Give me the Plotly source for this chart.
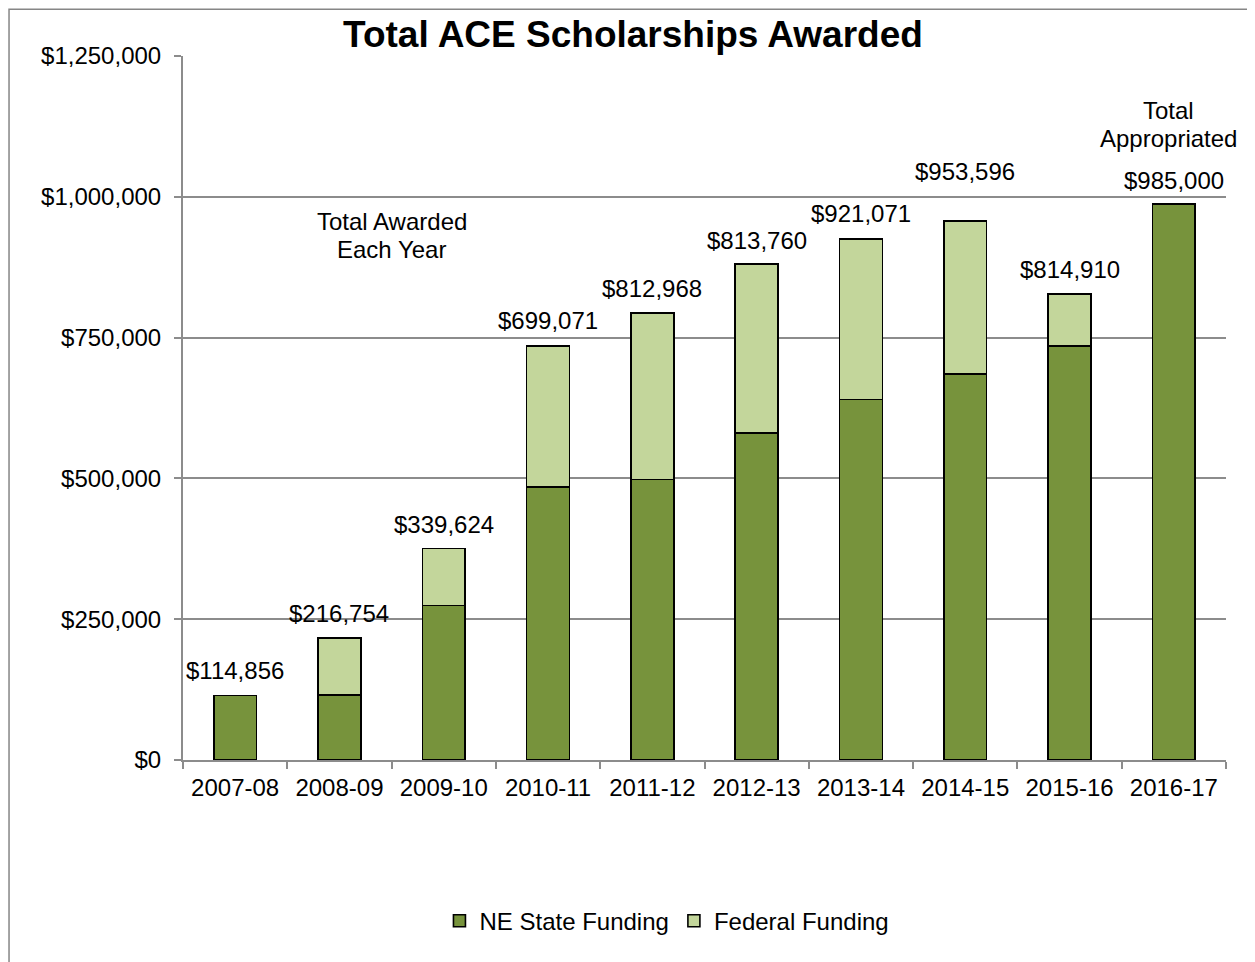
import plotly.graph_objects as go

years = ["2007-08", "2008-09", "2009-10", "2010-11", "2011-12", "2012-13",
         "2013-14", "2014-15", "2015-16", "2016-17"]
state_funding = [114600, 115800, 274500, 484700, 498400, 580700, 640000, 685500, 734700, 987000]
federal_funding = [0, 100600, 100700, 250600, 295000, 299700, 285400, 271900, 92400, 0]
total_labels = ["$114,856", "$216,754", "$339,624", "$699,071", "$812,968", "$813,760",
                "$921,071", "$953,596", "$814,910", "$985,000"]
label_shift = [25, 25, 24, 25, 25, 24, 25, 49, 25, 24]
y_ticks = [0, 250000, 500000, 750000, 1000000, 1250000]
y_tick_text = ["$0", "$250,000", "$500,000", "$750,000", "$1,000,000", "$1,250,000"]

FONT = "Liberation Sans, Arial, sans-serif"
FS = 24
STATE_C = "#77933C"
FED_C = "#C3D69B"
GRID_C = "#8C8C8C"

fig = go.Figure()
fig.add_trace(go.Bar(x=years, y=state_funding, name="NE State Funding",
                     marker=dict(color=STATE_C, line=dict(color="black", width=1.6))))
fig.add_trace(go.Bar(x=years, y=federal_funding, name="Federal Funding",
                     marker=dict(color=FED_C, line=dict(color="black", width=1.6))))

totals = [s + f for s, f in zip(state_funding, federal_funding)]
txt_font = dict(family=FONT, size=FS, color="black")
annotations = []
for yr, tot, lab, sh in zip(years, totals, total_labels, label_shift):
    annotations.append(dict(x=yr, y=tot, text=lab, showarrow=False, yshift=sh,
                            xanchor="center", yanchor="middle", font=txt_font))
for line, sh in [("Total Awarded", 14), ("Each Year", -14)]:
    annotations.append(dict(x=1.5, y=932000, text=line, showarrow=False, yshift=sh,
                            xanchor="center", yanchor="middle", font=txt_font))
for line, sh in [("Total", 94), ("Appropriated", 66)]:
    annotations.append(dict(x=years[-1], y=totals[-1], text=line, showarrow=False,
                            xanchor="center", yanchor="middle", yshift=sh, xshift=-5,
                            font=txt_font))

fig.update_layout(
    width=1255, height=962,
    barmode="stack", bargap=0.59,
    paper_bgcolor="white", plot_bgcolor="white",
    margin=dict(l=175, r=37, t=48, b=210),
    title=dict(text="<b>Total ACE Scholarships Awarded</b>", xref="container", yref="container",
               x=625/1255, y=1-26/962, xanchor="center", yanchor="middle",
               font=dict(family=FONT, size=37, color="black")),
    font=dict(family=FONT, size=FS, color="black"),
    showlegend=True,
    legend=dict(orientation="h", x=0.464, y=-0.229, xanchor="center", yanchor="middle",
                font=txt_font, traceorder="normal", itemwidth=30),
    annotations=annotations,
    shapes=[dict(type="rect", xref="paper", yref="paper", x0=-0.1668, x1=1.05,
                 y0=-0.32, y1=1.0665, line=dict(color="#868686", width=1.5),
                 fillcolor="rgba(0,0,0,0)", layer="below")],
)
fig.update_xaxes(type="category", range=[-0.5, len(years) - 0.5], autorange=False,
                 showline=True, linecolor=GRID_C, linewidth=2,
                 ticks="outside", tickson="boundaries", ticklen=7, tickcolor=GRID_C, tickwidth=2,
                 showgrid=False, ticklabelstandoff=5, tickfont=txt_font)
fig.update_yaxes(range=[0, 1250000], autorange=False, tickvals=y_ticks, ticktext=y_tick_text,
                 showline=True, linecolor=GRID_C, linewidth=2,
                 ticks="outside", ticklen=7, tickcolor=GRID_C, tickwidth=2,
                 showgrid=True, gridcolor=GRID_C, gridwidth=2, zeroline=False,
                 ticklabelstandoff=8, tickfont=txt_font)

fig.write_html("out.html")
